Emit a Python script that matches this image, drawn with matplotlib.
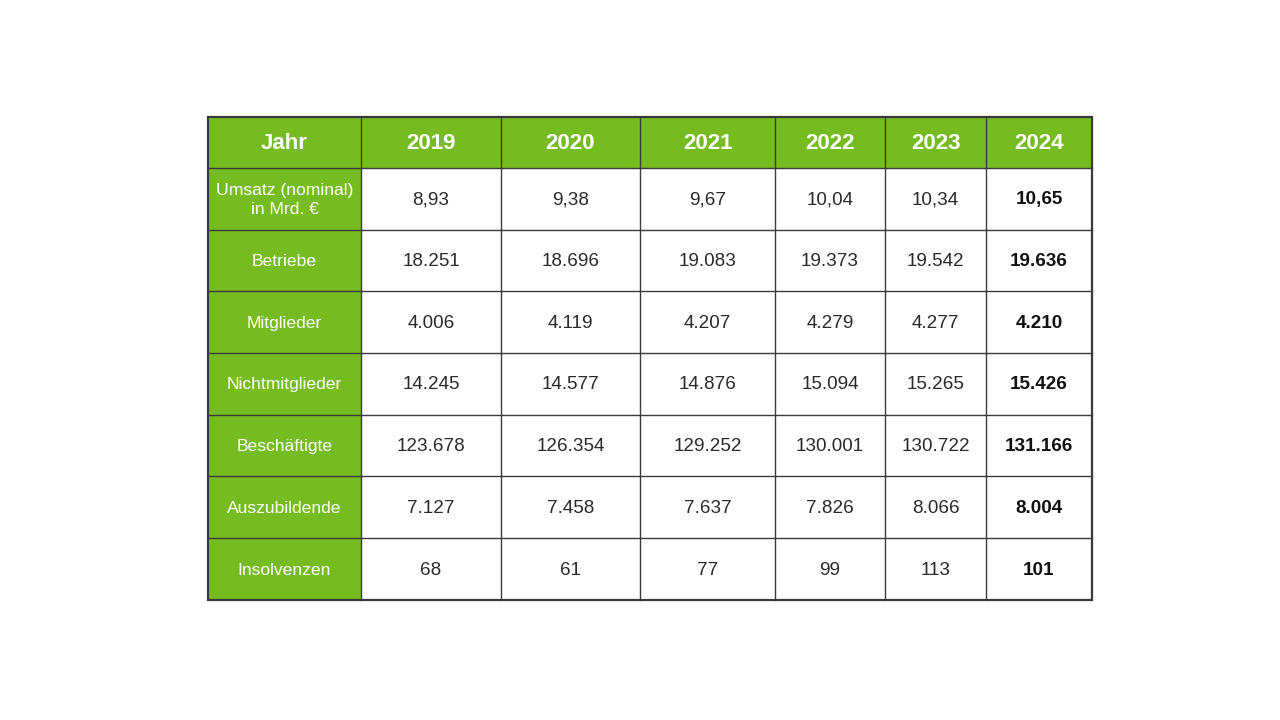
import matplotlib.pyplot as plt
from matplotlib.patches import Rectangle

plt.rcParams['font.family'] = ['Liberation Sans', 'DejaVu Sans']

years = ['2019', '2020', '2021', '2022', '2023', '2024']
row_labels = ['Umsatz (nominal)\nin Mrd. €', 'Betriebe', 'Mitglieder',
              'Nichtmitglieder', 'Beschäftigte', 'Auszubildende', 'Insolvenzen']
values = [
    ['8,93', '9,38', '9,67', '10,04', '10,34', '10,65'],
    ['18.251', '18.696', '19.083', '19.373', '19.542', '19.636'],
    ['4.006', '4.119', '4.207', '4.279', '4.277', '4.210'],
    ['14.245', '14.577', '14.876', '15.094', '15.265', '15.426'],
    ['123.678', '126.354', '129.252', '130.001', '130.722', '131.166'],
    ['7.127', '7.458', '7.637', '7.826', '8.066', '8.004'],
    ['68', '61', '77', '99', '113', '101'],
]

# layout in pixels
x0, y0 = 208, 117
col_w = [153, 140, 139, 135, 110, 101, 106]
head_h = 51
row_h = 61.7
green = '#76bc21'
line = '#3a3a3a'

fig = plt.figure(figsize=(12.8, 7.2), dpi=100)
ax = fig.add_axes([0, 0, 1, 1])
ax.set_xlim(0, 1280)
ax.set_ylim(720, 0)
ax.axis('off')

xs = [x0]
for w in col_w:
    xs.append(xs[-1] + w)
ys = [y0, y0 + head_h]
for _ in row_labels:
    ys.append(ys[-1] + row_h)

# backgrounds
ax.add_patch(Rectangle((xs[0], ys[0]), xs[-1] - xs[0], head_h, fc=green, ec='none'))
ax.add_patch(Rectangle((xs[0], ys[1]), col_w[0], ys[-1] - ys[1], fc=green, ec='none'))

# grid lines
for x in xs[1:-1]:
    ax.plot([x, x], [ys[0], ys[-1]], color=line, lw=1.0)
for y in ys[1:-1]:
    ax.plot([xs[0], xs[-1]], [y, y], color=line, lw=1.0)
ax.add_patch(Rectangle((xs[0], ys[0]), xs[-1] - xs[0], ys[-1] - ys[0],
                       fc='none', ec=line, lw=1.6))

# header
header = ['Jahr'] + years
for i, txt in enumerate(header):
    ax.text((xs[i] + xs[i + 1]) / 2, (ys[0] + ys[1]) / 2 + 1, txt,
            ha='center', va='center', color='white', fontsize=16, fontweight='bold')

# body
for r, lab in enumerate(row_labels):
    cy = (ys[r + 1] + ys[r + 2]) / 2 + 1
    ax.text((xs[0] + xs[1]) / 2, cy, lab, ha='center', va='center',
            color='white', fontsize=12.6, linespacing=1.35)
    for c, v in enumerate(values[r]):
        bold = c == len(years) - 1
        ax.text((xs[c + 1] + xs[c + 2]) / 2, cy, v, ha='center', va='center',
                color='#111111' if bold else '#2a2a2a', fontsize=13.6,
                fontweight='bold' if bold else 'normal')

fig.savefig('out.png', dpi=100)
